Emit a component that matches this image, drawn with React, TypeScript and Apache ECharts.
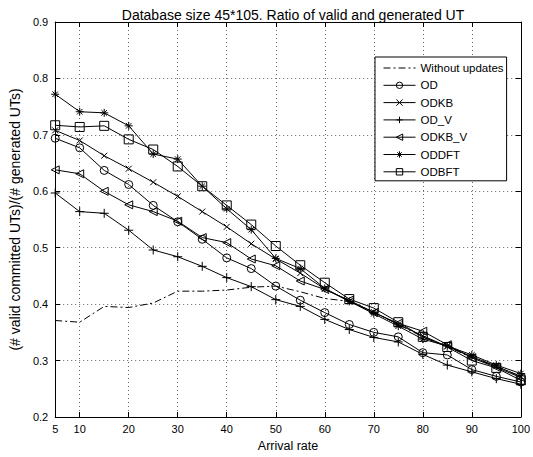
import React, { useEffect, useRef } from "react";
import * as echarts from "echarts";

const arrivalRates = [5, 10, 15, 20, 25, 30, 35, 40, 45, 50, 55, 60, 65, 70, 75, 80, 85, 90, 95, 100];
const xTicks = [5, 10, 20, 30, 40, 50, 60, 70, 80, 90, 100];

const withoutUpdates = [0.371, 0.368, 0.396, 0.394, 0.402, 0.423, 0.423, 0.425, 0.430, 0.432, 0.422, 0.41, 0.405, 0.386, 0.364, 0.342, 0.325, 0.305, 0.29, 0.272];
const od = [0.694, 0.677, 0.637, 0.612, 0.575, 0.546, 0.515, 0.482, 0.463, 0.432, 0.407, 0.385, 0.364, 0.350, 0.342, 0.314, 0.310, 0.284, 0.272, 0.262];
const odkb = [0.708, 0.690, 0.663, 0.640, 0.616, 0.591, 0.564, 0.537, 0.507, 0.480, 0.455, 0.427, 0.405, 0.386, 0.364, 0.344, 0.325, 0.307, 0.290, 0.272];
const odV = [0.597, 0.564, 0.561, 0.531, 0.496, 0.484, 0.467, 0.447, 0.431, 0.408, 0.396, 0.373, 0.355, 0.341, 0.333, 0.311, 0.292, 0.280, 0.268, 0.258];
const odkbV = [0.638, 0.631, 0.600, 0.576, 0.564, 0.547, 0.518, 0.509, 0.480, 0.468, 0.441, 0.426, 0.407, 0.385, 0.366, 0.352, 0.328, 0.305, 0.288, 0.270];
const oddft = [0.772, 0.741, 0.739, 0.716, 0.666, 0.657, 0.609, 0.569, 0.532, 0.481, 0.463, 0.428, 0.405, 0.383, 0.361, 0.338, 0.326, 0.310, 0.292, 0.277];
const odbft = [0.717, 0.714, 0.716, 0.692, 0.674, 0.644, 0.609, 0.575, 0.541, 0.503, 0.469, 0.438, 0.409, 0.393, 0.368, 0.342, 0.324, 0.300, 0.287, 0.265];

const FONT = "Liberation Sans, Arial, Helvetica, sans-serif";

const SYM_CIRCLE = "path://M0,5A5,5 0 1,1 10,5A5,5 0 1,1 0,5Z";
const SYM_SQUARE = "path://M0,0L10,0L10,10L0,10Z";
const SYM_CROSS = "path://M0,0L10,10M10,0L0,10";
const SYM_PLUS = "path://M5,0L5,10M0,5L10,5";
const SYM_STAR = "path://M5,0L5,10M0,5L10,5M1.5,1.5L8.5,8.5M8.5,1.5L1.5,8.5";
const SYM_TRI_LEFT = "path://M0,5L10,0L10,10Z";

function pairs(vals: number[]) {
  return arrivalRates.map((x, i) => [x, vals[i]]);
}

export default function App() {
  const ref = useRef<HTMLDivElement>(null);
  useEffect(() => {
    if (!ref.current) return;
    const chart = echarts.init(ref.current, null, { renderer: "svg" });
    const mk = (name: string, vals: number[], symbol: string, size: number, dash?: number[]) => ({
      name,
      type: "line",
      data: pairs(vals),
      symbol,
      symbolSize: size,
      showSymbol: true,
      color: "#000",
      lineStyle: dash ? { color: "#000", width: 1, type: dash } : { color: "#000", width: 1 },
      itemStyle: { color: "none", borderColor: "#000", borderWidth: dash ? 0 : 1 },
      emphasis: { disabled: true },
      z: 3,
    });
    const gridLine = { show: true, lineStyle: { color: "#666", type: [1, 3], width: 1 } };
    const axisLine = { show: true, lineStyle: { color: "#000", width: 1 } };
    chart.setOption({
      animation: false,
      backgroundColor: "#fff",
      title: {
        text: "Database size 45*105. Ratio of valid and generated UT",
        left: 288,
        top: 3,
        textAlign: "center",
        textStyle: { fontFamily: FONT, fontSize: 14, fontWeight: "normal", color: "#000" },
      },
      grid: { left: 50, right: 8, top: 22, bottom: 40, containLabel: false },
      legend: {
        orient: "vertical",
        left: 375,
        top: 57,
        padding: [5, 3, 3, 8],
        itemGap: 5.3,
        itemWidth: 32,
        itemHeight: 8,
        backgroundColor: "#fff",
        borderColor: "#000",
        borderWidth: 1,
        borderRadius: 0,
        itemStyle: { color: "none", borderColor: "#000", borderWidth: 1 },
        lineStyle: { width: 1, color: "#000" },
        textStyle: { fontFamily: FONT, fontSize: 11.5, lineHeight: 12, color: "#000" },
        data: [
          { name: "Without updates", itemStyle: { borderWidth: 0, color: "none" } },
          "OD",
          "ODKB",
          "OD_V",
          "ODKB_V",
          "ODDFT",
          "ODBFT",
        ],
      },
      xAxis: [
        {
          type: "value",
          min: 5,
          max: 100,
          name: "Arrival rate",
          nameLocation: "middle",
          nameGap: 22,
          nameTextStyle: { fontFamily: FONT, fontSize: 12.5, color: "#000" },
          axisLine,
          axisTick: { show: true, inside: true, length: 5, customValues: xTicks, lineStyle: { color: "#000" } },
          axisLabel: { customValues: xTicks, fontFamily: FONT, fontSize: 11, color: "#000", margin: 6 },
          splitLine: gridLine,
        },
        {
          type: "value",
          position: "top",
          min: 5,
          max: 100,
          axisLine,
          axisTick: { show: true, inside: true, length: 5, customValues: xTicks, lineStyle: { color: "#000" } },
          axisLabel: { show: false },
          splitLine: { show: false },
        },
      ],
      yAxis: [
        {
          type: "value",
          min: 0.2,
          max: 0.9,
          interval: 0.1,
          name: "(# valid committed UTs)/(# generated UTs)",
          nameLocation: "middle",
          nameGap: 32,
          nameTextStyle: { fontFamily: FONT, fontSize: 14, color: "#000" },
          axisLine,
          axisTick: { show: true, inside: true, length: 5, lineStyle: { color: "#000" } },
          axisLabel: { fontFamily: FONT, fontSize: 11, color: "#000", margin: 7, formatter: (v: number) => v.toFixed(1) },
          splitLine: gridLine,
        },
        {
          type: "value",
          position: "right",
          min: 0.2,
          max: 0.9,
          interval: 0.1,
          axisLine,
          axisTick: { show: true, inside: true, length: 5, lineStyle: { color: "#000" } },
          axisLabel: { show: false },
          splitLine: { show: false },
        },
      ],
      series: [
        mk("Without updates", withoutUpdates, "none", 0, [7, 3, 2, 3]),
        mk("OD", od, SYM_CIRCLE, 8),
        mk("ODKB", odkb, SYM_CROSS, 6),
        mk("OD_V", odV, SYM_PLUS, 9),
        mk("ODKB_V", odkbV, SYM_TRI_LEFT, 8),
        mk("ODDFT", oddft, SYM_STAR, 8),
        mk("ODBFT", odbft, SYM_SQUARE, 9),
      ],
    });
    return () => chart.dispose();
  }, []);
  return <div ref={ref} style={{ position: "fixed", left: 0, top: 0, width: 533, height: 457, background: "#fff" }} />;
}
